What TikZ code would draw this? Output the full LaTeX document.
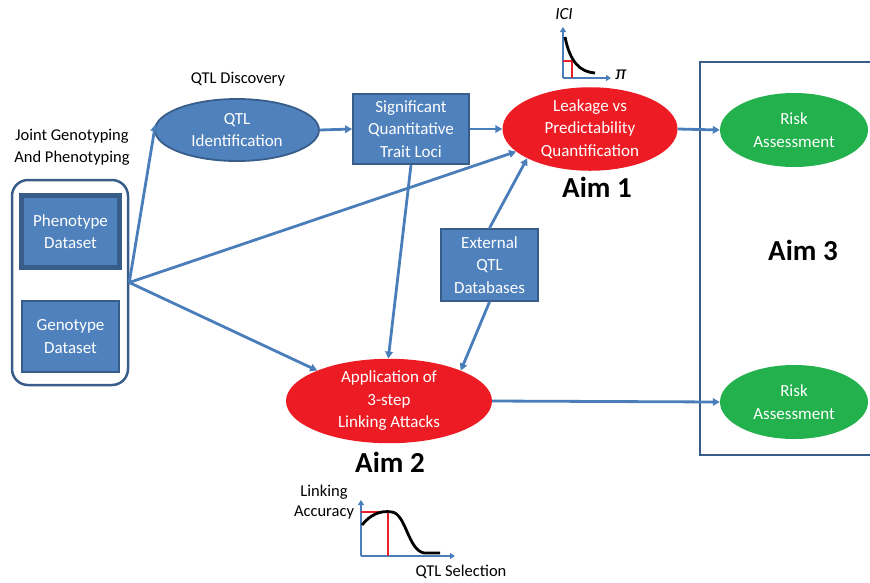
\documentclass[tikz,border=0pt]{standalone}
\usepackage{fontspec}
\setmainfont{Carlito}
\usetikzlibrary{shapes.geometric,arrows.meta}
\definecolor{bfill}{HTML}{4F81BD}
\definecolor{bdraw}{HTML}{385D8A}
\definecolor{rfill}{HTML}{ED1C24}
\definecolor{gfill}{HTML}{22B14C}
\definecolor{arr}{HTML}{4A7EBB}
\definecolor{plotred}{HTML}{E8202A}
\begin{document}
\begin{tikzpicture}[x=1pt,y=-1pt, font=\fontsize{17}{22.5}\selectfont,
  conn/.style={draw=arr, line width=2.8pt, -{Triangle[length=7pt,width=7.5pt]}},
  axis/.style={draw=arr, line width=2.8pt, -{Triangle[length=5pt,width=6pt]}},
  bbox/.style={rectangle, fill=bfill, draw=bdraw, line width=1.8pt, text=white, align=center, inner sep=0pt},
  bell/.style={ellipse, fill=bfill, draw=bdraw, line width=1.8pt, text=white, align=center, inner sep=0pt},
  rell/.style={ellipse, fill=rfill, text=white, align=center, inner sep=0pt},
  gell/.style={ellipse, fill=gfill, text=white, align=center, inner sep=0pt},
  aim/.style={font=\fontsize{29}{32}\selectfont\bfseries},
  lbl/.style={align=center, text=black, inner sep=0pt}]
\useasboundingbox (0,0) rectangle (870,582);

% left group
\node[lbl, font=\fontsize{16.5}{22}\selectfont] (joint) at (72,147) {Joint Genotyping\\And Phenotyping};
\node[draw=bdraw, line width=2.5pt, rounded corners=16pt, minimum width=116pt, minimum height=205pt, inner sep=0pt] (group) at (70,282.5) {};
\node[bbox, line width=5pt, minimum width=98pt, minimum height=72pt] (pheno) at (70.5,231.5) {Phenotype\\Dataset};
\node[bbox, line width=2.5pt, minimum width=97pt, minimum height=71pt] (geno) at (70.5,336.5) {Genotype\\Dataset};
\coordinate (br) at (group.east);

% QTL discovery
\node[lbl, font=\fontsize{16.5}{20}\selectfont] (disc) at (238,79) {QTL Discovery};
\node[bell, minimum width=164pt, minimum height=62pt] (qtl) at (237,130) {QTL\\Identification};
\node[bbox, minimum width=116pt, minimum height=70pt] (sig) at (411,129) {Significant\\Quantitative\\Trait Loci};
\node[bbox, minimum width=97pt, minimum height=72pt] (ext) at (489.5,265) {External\\QTL\\Databases};

% aims
\node[rell, minimum width=175pt, minimum height=82pt] (leak) at (590,129) {Leakage vs\\Predictability\\Quantification};
\node[rell, minimum width=206pt, minimum height=84pt] (app) at (389,401) {Application of\\3-step\\Linking Attacks};
\node[aim] (aim1) at (597,187) {Aim 1};
\node[aim] (aim2) at (390,462) {Aim 2};

% aim 3 frame
\draw[draw=bdraw, line width=2.8pt] (871,62) -- (700,62) -- (700,455) -- (871,455);
\node[gell, minimum width=148pt, minimum height=74pt] (risk1) at (794,130) {Risk\\Assessment};
\node[gell, minimum width=148pt, minimum height=74pt] (risk2) at (794,402) {Risk\\Assessment};
\node[aim] (aim3) at (803,250) {Aim 3};

% connectors
\draw[conn] (br) -- (qtl.176);
\draw[conn] (br) -- (leak.197);
\draw[conn] (br) -- (app.157);
\draw[conn] (qtl.east) -- (sig.west);
\draw[conn] (sig.east) -- (leak.west);
\draw[conn] (sig.south) -- (app.91);
\draw[conn] (ext.north) -- (leak.205);
\draw[conn] (ext.south) -- (app.23);
\draw[conn] (leak.east) -- (risk1.west);
\draw[conn] (app.east) -- (risk2.west);

% ICI plot
\coordinate (o1) at (563,78);
\draw[axis] (o1) -- (563,27);
\draw[axis] (o1) -- (611,78);
\draw[plotred, line width=2.8pt] (563,61) -- (572,61) -- (572,78);
\draw[black, line width=2.8pt] (565,37) .. controls (570,62) and (580,72) .. (595,73);
\node[lbl, font=\fontsize{17}{20}\selectfont\itshape] (ici) at (564,14) {ICI};
\node[lbl, font=\fontsize{20}{20}\selectfont\itshape] (pi) at (621,75) {π};

% linking accuracy plot
\coordinate (o2) at (361,556);
\draw[axis] (o2) -- (361,500);
\draw[axis] (o2) -- (455,556);
\draw[plotred, line width=2.8pt] (361,512) -- (388,512) -- (388,556);
\draw[black, line width=2.8pt] (362,525) .. controls (370,515) and (380,510) .. (392,512) .. controls (406,514) and (408,550) .. (424,553) -- (440,553);
\node[lbl, font=\fontsize{16.5}{20}\selectfont] (lacc) at (324,502) {Linking\\Accuracy};
\node[lbl, font=\fontsize{16.5}{20}\selectfont] (qsel) at (461,572) {QTL Selection};
\end{tikzpicture}
\end{document}
